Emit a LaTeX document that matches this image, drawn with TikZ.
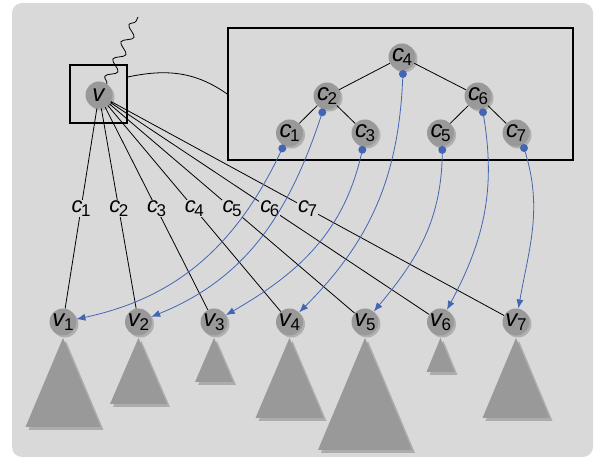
\documentclass[tikz,border=0pt]{standalone}
\usepackage{fontspec}
\setmainfont{Liberation Sans}
\usetikzlibrary{
    arrows.meta,
    calc,
    decorations.pathmorphing,
    shadows
}
\definecolor{bggray}{RGB}{217,217,217}
\definecolor{nodegray}{RGB}{153,153,153}
\definecolor{shadegray}{RGB}{176,176,176}
\definecolor{trishade}{RGB}{172,172,172}
\definecolor{linkblue}{RGB}{68,102,178}
\newcommand{\lab}[2]{\textit{#1}\kern-1.5pt\raisebox{-.3ex}{\fontsize{17}{17}\selectfont #2}}

\begin{document}
\begin{tikzpicture}[x=1pt, y=1pt,
    vert/.style={circle, fill=nodegray, minimum size=27pt, inner sep=0pt,
        general shadow={fill=shadegray, shadow xshift=2pt, shadow yshift=-2pt},
        font=\fontsize{24}{24}\selectfont},
    elbl/.style={fill=bggray, inner sep=1pt, font=\fontsize{22}{22}\selectfont},
    dot/.style={circle, fill=linkblue, inner sep=0pt, minimum size=8pt},
    link/.style={linkblue, line width=.8pt, -{Latex[length=9pt,width=7pt]}},
    box/.style={draw, line width=1.6pt, inner sep=0pt}
]
    \useasboundingbox (0,0) rectangle (595,458);
    \fill[bggray, rounded corners=10pt] (12,1) rectangle (593,455);

    % boxes
    \node[box, minimum width=57pt, minimum height=58pt] (vbox) at (98.5,364) {};
    \node[box, minimum width=345pt, minimum height=132pt] (tbox) at (400.5,364) {};
    \draw[line width=.8pt] ([yshift=17pt]vbox.east) to[out=12, in=145] (tbox.west);

    % subtrees
    \foreach \x/\w/\b in {63/37.5/31, 138.5/28.5/54, 214/19/76, 289.5/34/40,
                          365/47/8, 440.5/14/86, 516/33.5/40} {
        \fill[trishade] (\x+3,117) -- (\x+\w+3,\b-3) -- (\x-\w+3,\b-3) -- cycle;
        \fill[nodegray] (\x,120) -- (\x+\w,\b) -- (\x-\w,\b) -- cycle;
    }

    % node v and its children
    \node[vert] (v) at (99,363) {\textit{v}};
    \node[vert] (v1) at (63,136) {\lab{v}{1}};
    \node[vert] (v2) at (138.5,136) {\lab{v}{2}};
    \node[vert] (v3) at (214,136) {\lab{v}{3}};
    \node[vert] (v4) at (289.5,136) {\lab{v}{4}};
    \node[vert] (v5) at (365,136) {\lab{v}{5}};
    \node[vert] (v6) at (440.5,136) {\lab{v}{6}};
    \node[vert] (v7) at (516,136) {\lab{v}{7}};

    % search tree of the keys
    \node[vert] (c4) at (402,401) {\lab{c}{4}};
    \node[vert] (c2) at (327,362) {\lab{c}{2}};
    \node[vert] (c6) at (478,362) {\lab{c}{6}};
    \node[vert] (c1) at (289.5,325) {\lab{c}{1}};
    \node[vert] (c3) at (365,325) {\lab{c}{3}};
    \node[vert] (c5) at (440.5,325) {\lab{c}{5}};
    \node[vert] (c7) at (516,325) {\lab{c}{7}};

    \coordinate (top) at (138,441);
    \draw[line width=.8pt, decorate, decoration={snake, amplitude=5pt, segment length=19pt}]
        (v.55) -- (top);

    \draw[line width=.8pt]
    (c4) edge (c2)
    (c4) edge (c6)
    (c2) edge (c1)
    (c2) edge (c3)
    (c6) edge (c5)
    (c6) edge (c7);

    \draw[line width=.8pt]
    (v) -- node[elbl] {\lab{c}{1}} (v1)
    (v) -- node[elbl] {\lab{c}{2}} (v2)
    (v) -- node[elbl] {\lab{c}{3}} (v3)
    (v) -- node[elbl] {\lab{c}{4}} (v4)
    (v) -- node[elbl] {\lab{c}{5}} (v5)
    (v) -- node[elbl] {\lab{c}{6}} (v6)
    (v) -- node[elbl] {\lab{c}{7}} (v7);

    % pointers from keys to children
    \node[dot] (d1) at ($(c1)+(-115:17)$) {};
    \node[dot] (d2) at ($(c2)+(-106:17)$) {};
    \node[dot] (d3) at ($(c3)+(-99:17)$) {};
    \node[dot] (d4) at ($(c4)+(-87:17)$) {};
    \node[dot] (d5) at ($(c5)+(-84:17)$) {};
    \node[dot] (d6) at ($(c6)+(-73:17)$) {};
    \node[dot] (d7) at ($(c7)+(-62:17)$) {};

    \draw[link] (d1.center) to[out=-115, in=12] (v1);
    \draw[link] (d2.center) to[out=-108, in=22] (v2);
    \draw[link] (d3.center) to[out=-102, in=30] (v3);
    \draw[link] (d4.center) to[out=-92, in=45] (v4);
    \draw[link] (d5.center) to[out=-90, in=50] (v5);
    \draw[link] (d6.center) to[out=-80, in=62] (v6);
    \draw[link] (d7.center) to[out=-72, in=80] (v7);
\end{tikzpicture}
\end{document}
